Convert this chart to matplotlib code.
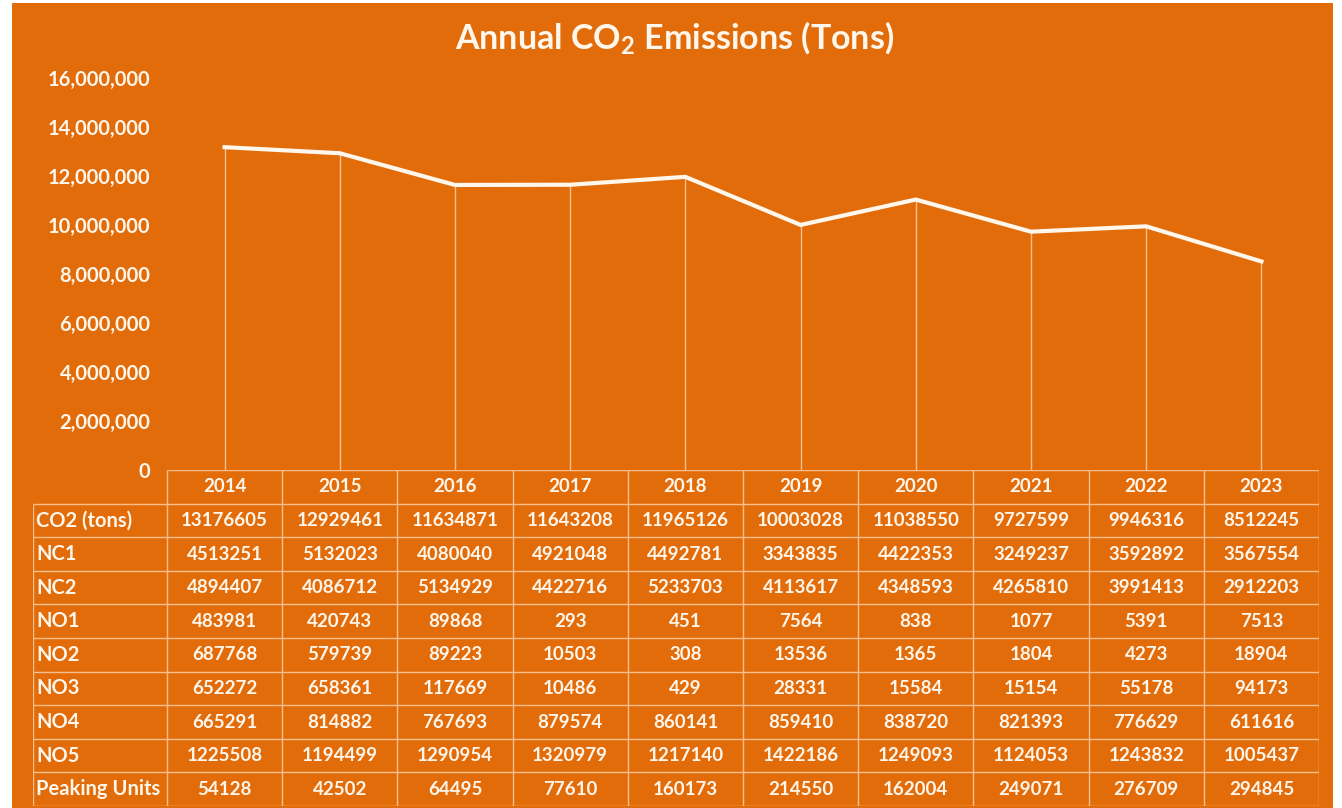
import matplotlib.pyplot as plt
from matplotlib.patches import Rectangle
from matplotlib.ticker import FuncFormatter

W, H = 1342, 808
ORANGE = "#E36C0A"
TXT = "#FFF6EC"
GRID = "#F6BE8C"

years = ["2014", "2015", "2016", "2017", "2018", "2019", "2020", "2021", "2022", "2023"]
co2 = [13176605, 12929461, 11634871, 11643208, 11965126, 10003028, 11038550, 9727599, 9946316, 8512245]
nc1 = [4513251, 5132023, 4080040, 4921048, 4492781, 3343835, 4422353, 3249237, 3592892, 3567554]
nc2 = [4894407, 4086712, 5134929, 4422716, 5233703, 4113617, 4348593, 4265810, 3991413, 2912203]
no1 = [483981, 420743, 89868, 293, 451, 7564, 838, 1077, 5391, 7513]
no2 = [687768, 579739, 89223, 10503, 308, 13536, 1365, 1804, 4273, 18904]
no3 = [652272, 658361, 117669, 10486, 429, 28331, 15584, 15154, 55178, 94173]
no4 = [665291, 814882, 767693, 879574, 860141, 859410, 838720, 821393, 776629, 611616]
no5 = [1225508, 1194499, 1290954, 1320979, 1217140, 1422186, 1249093, 1124053, 1243832, 1005437]
peaking = [54128, 42502, 64495, 77610, 160173, 214550, 162004, 249071, 276709, 294845]

row_labels = ["CO2 (tons)", "NC1", "NC2", "NO1", "NO2", "NO3", "NO4", "NO5", "Peaking Units"]
rows = [co2, nc1, nc2, no1, no2, no3, no4, no5, peaking]

plt.rcParams["font.family"] = ["Lato", "DejaVu Sans"]
plt.rcParams["font.weight"] = "bold"
plt.rcParams["mathtext.fontset"] = "custom"
plt.rcParams["mathtext.bf"] = "Lato:bold"


def fig_box(x0, y0, x1, y1):
    # pixel box (top-left origin) -> figure fraction rect
    return [x0 / W, 1 - y1 / H, (x1 - x0) / W, (y1 - y0) / H]


fig = plt.figure(figsize=(W / 100, H / 100), dpi=100, facecolor="white")

# orange panel, behind everything
fig.patches.append(Rectangle((12 / W, 0), (1333 - 12) / W, (H - 3) / H,
                             transform=fig.transFigure, facecolor=ORANGE,
                             edgecolor="none", zorder=-10))

# chart
ax = fig.add_axes(fig_box(167, 78, 1319, 470))
ax.patch.set_alpha(0)
x = list(range(len(years)))
ax.plot(x, co2, color=TXT, lw=3, solid_joinstyle="miter", zorder=3)
ax.vlines(x, 0, co2, color=GRID, lw=1, zorder=2)
ax.set_xlim(-0.5, len(years) - 0.5)
ax.set_ylim(0, 16_000_000)
ax.set_yticks(range(0, 16_000_001, 2_000_000))
ax.yaxis.set_major_formatter(FuncFormatter(lambda v, p: f"{int(v):,}"))
ax.tick_params(axis="y", length=0, pad=12, labelsize=14.5, labelcolor=TXT)
ax.set_xticks([])
for s in ax.spines.values():
    s.set_visible(False)

fig.text(675 / W, 1 - 38 / H, r"Annual CO$_\mathbf{2}$ Emissions (Tons)",
         ha="center", va="center", color=TXT, fontsize=24.5, fontweight="bold")

# data table
tx = fig.add_axes(fig_box(33, 470, 1319, 806))
tx.patch.set_alpha(0)
lab_w = (167 - 33) / 115.2
tx.set_xlim(-0.5 - lab_w, len(years) - 0.5)
tx.set_ylim(len(rows) + 1, 0)
tx.axis("off")

n = len(years)
# header row
tx.hlines(0, -0.5, n - 0.5, color=GRID, lw=1)
for i, yr in enumerate(years):
    tx.text(i, 0.5, yr, ha="center", va="center", color=TXT, fontsize=13.5, fontweight="bold")
# grid
for r in range(1, len(rows) + 2):
    tx.hlines(r, -0.5 - lab_w, n - 0.5, color=GRID, lw=1)
tx.vlines(-0.5 - lab_w, 1, len(rows) + 1, color=GRID, lw=1)
for c in range(n + 1):
    tx.vlines(c - 0.5, 0, len(rows) + 1, color=GRID, lw=1)
for r, (lab, vals) in enumerate(zip(row_labels, rows), start=1):
    tx.text(-0.5 - lab_w + 0.025, r + 0.5, lab, ha="left", va="center",
            color=TXT, fontsize=14.5, fontweight="bold")
    for i, v in enumerate(vals):
        tx.text(i, r + 0.5, str(v), ha="center", va="center",
                color=TXT, fontsize=13.5, fontweight="bold")

fig.savefig("out.png", dpi=100, facecolor="white")
